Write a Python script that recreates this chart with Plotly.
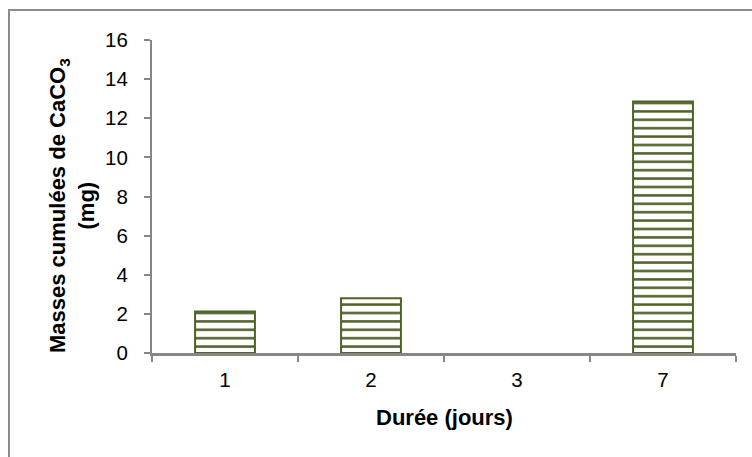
import plotly.graph_objects as go

categories = ["1", "2", "3", "7"]
masses = [2.12, 2.8, 0, 12.85]
y_ticks = [0, 2, 4, 6, 8, 10, 12, 14, 16]
x_title = "Durée (jours)"
y_title = "<b>Masses cumulées de CaCO<sub>3</sub></b><br><b>(mg)</b>"

GREEN = "#4f6228"
GRAY = "#868686"
FONT = "Liberation Sans, Arial, sans-serif"

L, R, T, B = 152, 16, 40, 104
W, H = 752, 457
pw, ph = W - L - R, H - T - B

fig = go.Figure(go.Bar(
    x=categories, y=masses,
    marker=dict(
        color="white",
        line=dict(color=GREEN, width=[2 if v > 0 else 0 for v in masses]),
        pattern=dict(shape="-", size=8.4, solidity=0.3, fgcolor=GREEN, bgcolor="white", fillmode="replace"),
    ),
    width=0.41,
    hoverinfo="skip",
))

fig.update_layout(
    width=W, height=H,
    margin=dict(l=L, r=R, t=T, b=B, autoexpand=False),
    paper_bgcolor="white", plot_bgcolor="white",
    font=dict(family=FONT, size=20, color="black"),
    showlegend=False,
    bargap=0.59,
    xaxis=dict(
        type="category", categoryorder="array", categoryarray=categories,
        showline=True, linecolor=GRAY, linewidth=2.5,
        ticks="outside", tickson="boundaries", ticklen=6, tickcolor=GRAY, tickwidth=1.5,
        ticklabelstandoff=7,
        showgrid=False, zeroline=False, tickfont=dict(size=20.5), automargin=False,
    ),
    yaxis=dict(
        range=[0, 16], tickvals=y_ticks,
        showline=True, linecolor=GRAY, linewidth=2,
        ticks="outside", ticklen=6, tickcolor=GRAY, tickwidth=1.5,
        ticklabelstandoff=12,
        showgrid=False, zeroline=False, tickfont=dict(size=20.5), automargin=False,
    ),
    annotations=[
        dict(text="<b>" + x_title + "</b>", xref="paper", yref="paper",
             x=0.5, y=(H - B - 417) / ph, xanchor="center", yanchor="middle",
             showarrow=False, font=dict(size=22)),
        dict(text=y_title, xref="paper", yref="paper", textangle=-90,
             x=(72 - L) / pw, y=(H - B - 206) / ph, xanchor="center", yanchor="middle",
             showarrow=False, font=dict(size=22)),
    ],
    shapes=[
        dict(type="rect", xref="paper", yref="paper",
             x0=(9 - L) / pw, x1=(W + 10 - L) / pw,
             y0=(H - B - (H + 10)) / ph, y1=(H - B - 10) / ph,
             line=dict(color="#8c8c8c", width=2), fillcolor="rgba(0,0,0,0)", layer="below"),
    ],
)

fig.write_html("out.html", config={"displayModeBar": False},
               post_script="document.body.style.margin='0';document.body.style.overflow='hidden';")
